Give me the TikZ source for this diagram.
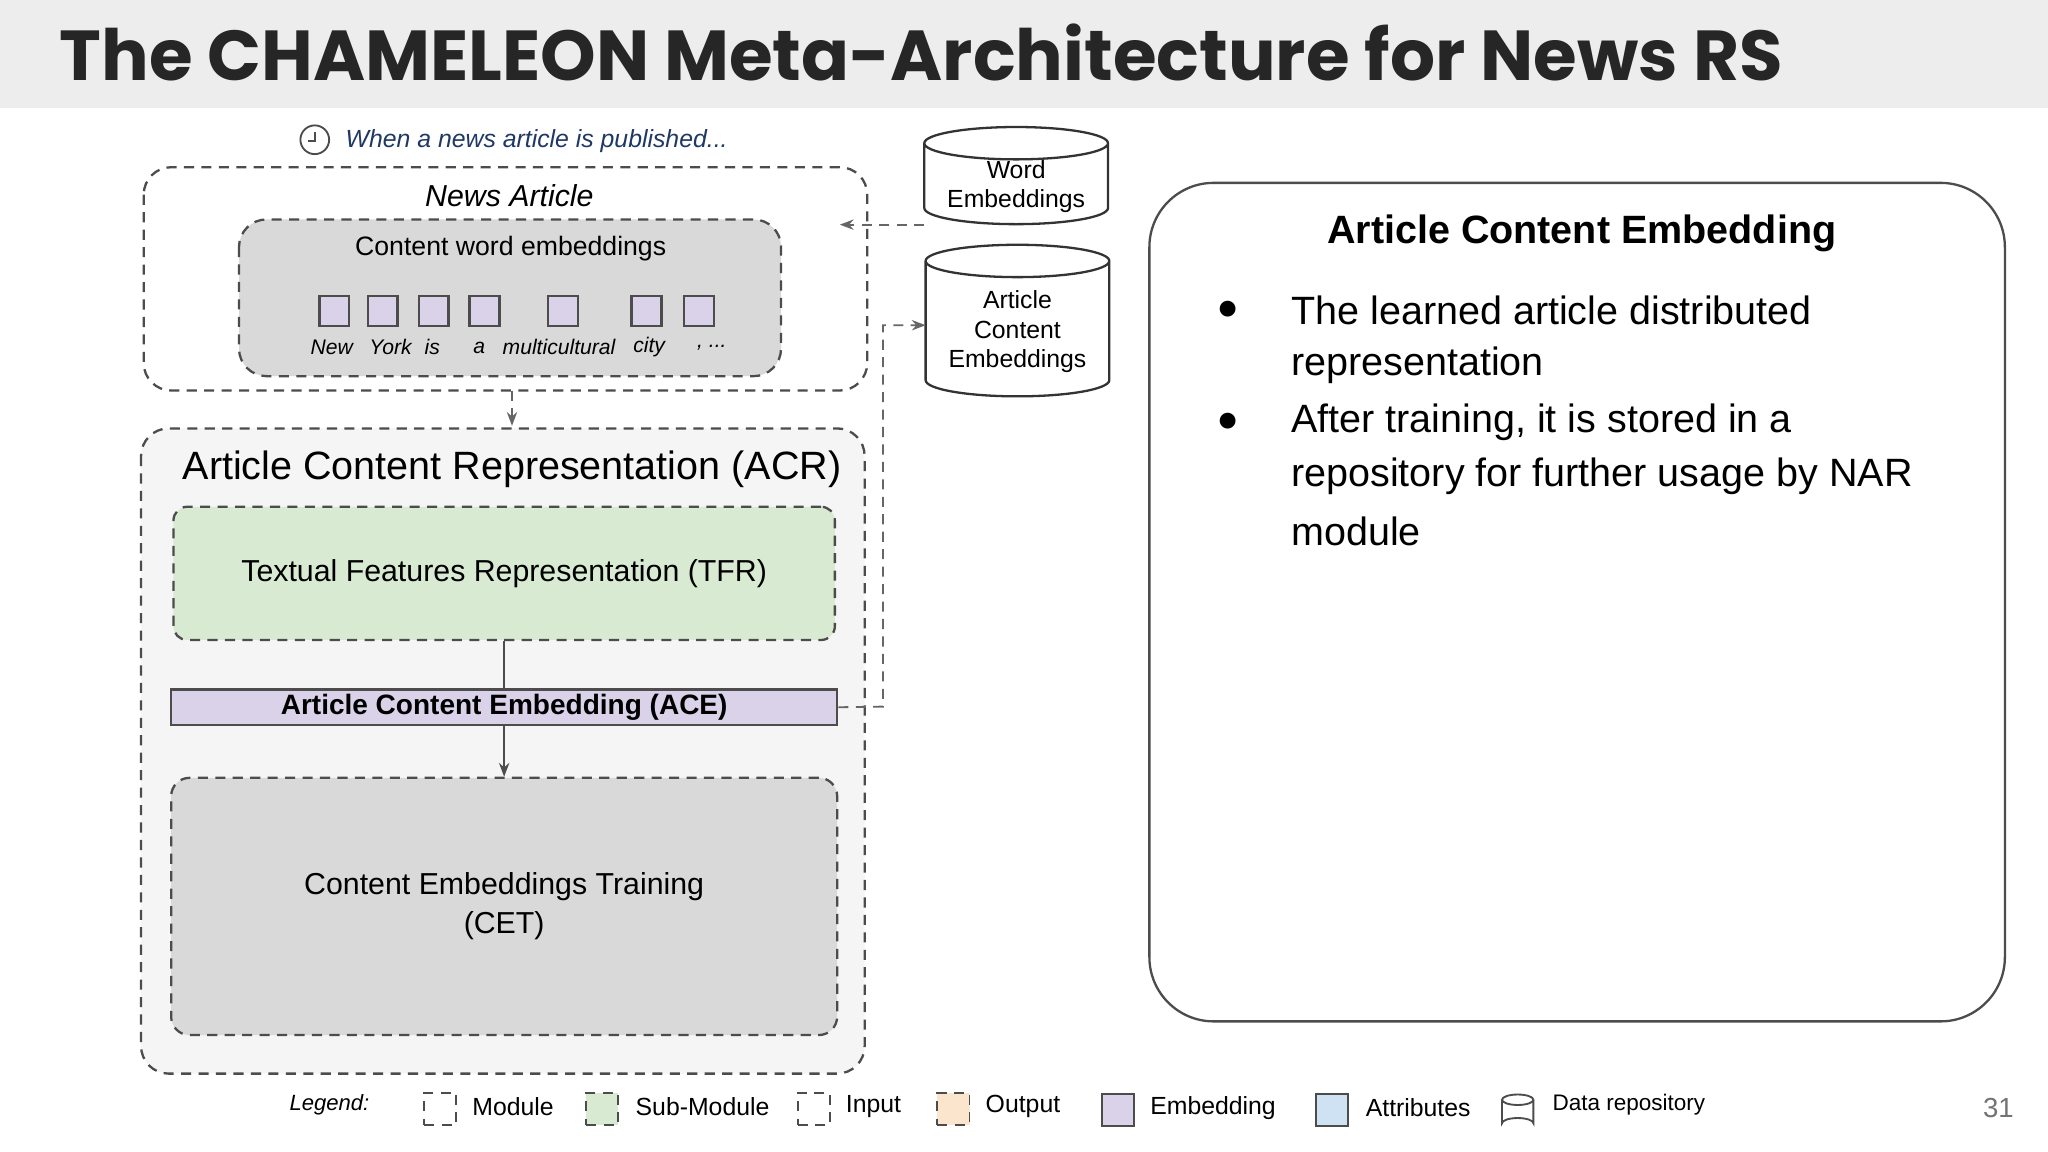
\documentclass[tikz,border=0pt]{standalone}
\usepackage{fontspec}
\setmainfont{Liberation Sans}
\newfontfamily\titlefont{Poppins}
\usetikzlibrary{shapes.geometric,arrows.meta}
\definecolor{lav}{HTML}{D9D2E9}
\definecolor{sgreen}{HTML}{D9EAD3}
\definecolor{peach}{HTML}{FCE5CD}
\definecolor{lblue}{HTML}{CFE2F3}
\definecolor{dblue}{HTML}{1F3864}
\tikzset{
 dsh/.style={dash pattern=on 2.2pt off 1.6pt},
 dbox/.style={draw=black!70,dsh,rounded corners=6pt,line width=0.5pt},
 sq/.style={draw=black!70,fill=lav,minimum size=6.5pt,inner sep=0pt,line width=0.5pt},
 wd/.style={font=\itshape\fontsize{4.6}{5}\selectfont,inner sep=0pt},
 cyl/.style={cylinder,shape border rotate=90,draw=black!80,fill=white,aspect=0.22,align=center,inner xsep=1pt,inner ysep=0pt,outer sep=0pt,font=\fontsize{5.4}{6.4}\selectfont,line width=0.5pt},
 darr/.style={draw=black!60,dsh,-{Stealth[length=3pt]},line width=0.4pt},
 lg/.style={draw=black!70,minimum size=7pt,inner sep=0pt,line width=0.4pt},
 lt/.style={anchor=west,font=\fontsize{5.4}{6}\selectfont,inner sep=0pt},
 bt/.style={anchor=west,font=\fontsize{8.6}{10}\selectfont,inner sep=0pt}
}
\begin{document}
\begin{tikzpicture}[x=0.01cm,y=-0.01cm]
\useasboundingbox (0,0) rectangle (1568,882);
\fill[white] (0,0) rectangle (1568,882);
\fill[black!7] (0,0) rectangle (1568,83);
\node[anchor=west,inner sep=0pt,font=\titlefont\fontsize{15.4}{17}\selectfont\bfseries,text=black!85] (title) at (45,40) {The CHAMELEON Meta-Architecture for News RS};
% clock
\draw[black!70,line width=0.4pt] (241,107) circle (11);
\draw[black!70,line width=0.4pt] (241,101) -- (241,108) -- (236,108);
\node[anchor=west,inner sep=0pt,font=\itshape\fontsize{5.4}{6}\selectfont,text=dblue] (when) at (264,108) {When a news article is published...};
% news article
\draw[dbox] (110,128) rectangle (664,299);
\coordinate (naB) at (392,299);
\node[font=\itshape\fontsize{6.6}{7}\selectfont] (na) at (390,150) {News Article};
\draw[dbox,fill=black!15] (183,168) rectangle (598,288);
\node[font=\fontsize{5.8}{7}\selectfont] (cwe) at (391,190) {Content word embeddings};
\foreach \x/\n in {256/a1,293/a2,332/a3,371/a4,431/a5,495/a6,535/a7}{\node[sq] (\n) at (\x,238) {};}
\node[wd] at (254,266) {New};
\node[wd] at (299,266) {York};
\node[wd] at (331,266) {is};
\node[wd] at (367,266) {a};
\node[wd] at (428,266) {multicultural};
\node[wd] at (497,266) {city};
\node[wd] at (545,266) {, ...};
% cylinders
\node[cyl,minimum width=40pt,minimum height=19pt] (we) at (778,143) {Word\\Embeddings};
\node[cyl,minimum width=40pt,minimum height=33pt] (ace2) at (779,254) {Article\\Content\\Embeddings};
\coordinate (naR) at (643,172);
\draw[darr] (we.west |- 0,172) -- (naR);
% ACR
\draw[dbox,fill=black!4] (108,328) rectangle (662,822);
\draw[darr] (naB) -- (392,326);
\node[font=\fontsize{8.6}{9}\selectfont] (acr) at (392,359) {Article Content Representation (ACR)};
\node[dbox,rounded corners=3pt,fill=sgreen,minimum width=144pt,minimum height=29pt,font=\fontsize{6.6}{7}\selectfont] (tfr) at (386,439) {Textual Features Representation (TFR)};
\node[draw=black!70,fill=lav,minimum width=145pt,minimum height=7.7pt,inner sep=0pt,font=\bfseries\fontsize{6.1}{7}\selectfont,line width=0.5pt] (ace) at (386,541.5) {Article Content Embedding (ACE)};
\node[dbox,rounded corners=4pt,fill=black!15,minimum width=145pt,minimum height=56pt,align=center,font=\fontsize{6.6}{8.5}\selectfont] (cet) at (386,694) {Content Embeddings Training\\(CET)};
\draw[black!70,line width=0.4pt] (tfr.south) -- (ace.north);
\draw[black!70,line width=0.4pt,-{Stealth[length=3pt]}] (ace.south) -- (cet.north);
\draw[darr] (ace.east) -- (676,541) -- (676,249) -- (ace2.west |- 0,249);
% right panel
\draw[black!70,rounded corners=14pt,line width=0.5pt] (880,140) rectangle (1535,782);
\node[font=\bfseries\fontsize{8.6}{10}\selectfont] (pt) at (1211,179) {Article Content Embedding};
\node[font=\fontsize{8}{8}\selectfont] at (940,238) {●};
\node[font=\fontsize{8}{8}\selectfont] at (940,323) {●};
\node[bt] at (988,238) {The learned article distributed};
\node[bt] at (988,280) {representation};
\node[bt] at (988,323) {After training, it is stored in a};
\node[bt] at (988,365) {repository for further usage by NAR};
\node[bt] at (988,407) {module};
% legend
\node[anchor=west,inner sep=0pt,font=\itshape\fontsize{4.8}{5}\selectfont] at (221,846) {Legend:};
\node[lg,dsh] at (337,849) {}; \node[lt] at (361,847) {Module};
\node[lg,dsh,fill=sgreen] at (461,849) {}; \node[lt] at (486,847) {Sub-Module};
\node[lg,dsh] at (623,849) {}; \node[lt] at (647,847) {Input};
\node[lg,dsh,fill=peach] at (730,849) {}; \node[lt] at (754,847) {Output};
\node[lg,fill=lav] at (856,850) {}; \node[lt] at (880,848) {Embedding};
\node[lg,fill=lblue] at (1020,850) {}; \node[lt] at (1045,848) {Attributes};
\draw[black!70,line width=0.4pt] (1150,842) -- (1150,860) arc[start angle=180,end angle=360,x radius=12,y radius=4] -- (1174,842);
\draw[black!70,line width=0.4pt] (1162,842) ellipse[x radius=12,y radius=4];
\node[lt,font=\fontsize{4.9}{6}\selectfont] at (1188,846) {Data repository};
\node[font=\fontsize{6}{7}\selectfont,text=black!55] at (1530,848) {31};
\end{tikzpicture}
\end{document}
